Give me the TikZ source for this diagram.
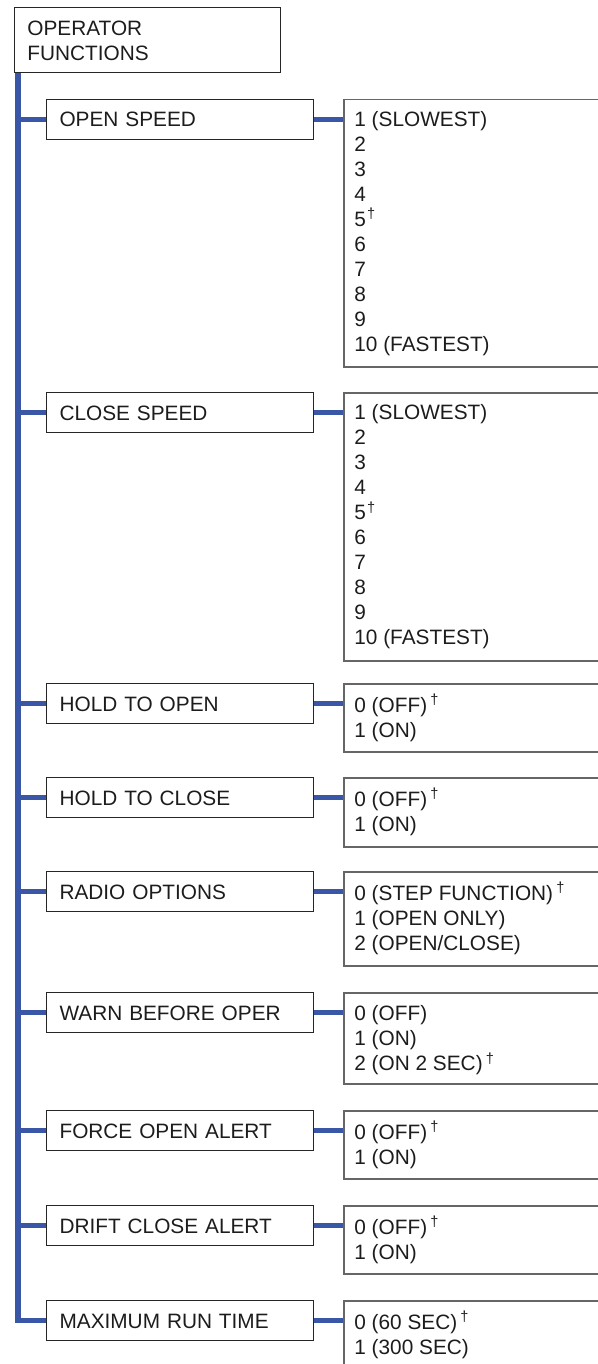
\documentclass[tikz,border=0pt]{standalone}
\usepackage{fontspec}
\setmainfont{Liberation Sans}
\definecolor{trunkblue}{RGB}{58,86,166}
\definecolor{txtc}{RGB}{30,27,28}
\newcommand{\dg}{\textsuperscript{\hspace{1.6pt}†}}
\newcommand{\dgn}{\textsuperscript{\hspace{0.6pt}†}}
\newcommand{\fl}{\rule{0pt}{10pt}}
\begin{document}
\begin{tikzpicture}[x=0.5pt,y=-0.5pt,
  every node/.style={font=\fontsize{10.4}{12.5}\selectfont, text=txtc},
  blueline/.style={draw=trunkblue,line width=2.9pt},
  topbox/.style={draw=black!85,line width=0.55pt,anchor=north west,minimum width=133pt,minimum height=32.5pt,inner sep=0pt},
  lbox/.style={draw=black!85,line width=0.55pt,anchor=north west,text width=120.5pt,inner xsep=6.5pt,inner ysep=0pt,minimum height=20pt,text height=7.45pt,text depth=0pt,align=left},
  rbox/.style={draw=black!60,line width=0.75pt,anchor=north west,minimum width=150pt,inner sep=0pt},
  rtxt/.style={anchor=north west,inner sep=0pt,align=left},
]
\useasboundingbox (0,0) rectangle (598,1364);
\clip (0,0) rectangle (598,1364);

% top box
\node[topbox] (top) at (14,7) {};
\node[rtxt] (toptxt) at ([xshift=6.5pt,yshift=-4.2pt]top.north west) {\fl OPERATOR\\FUNCTIONS};
\coordinate (tr) at ([xshift=2pt]top.south west);

% left boxes
\node[lbox] (os) at (46,99)   {OPEN SPEED};
\node[lbox] (cs) at (46,392)  {CLOSE SPEED};
\node[lbox] (ho) at (46,683)  {HOLD TO OPEN};
\node[lbox] (hc) at (46,777)  {HOLD TO CLOSE};
\node[lbox] (ro) at (46,871)  {RADIO OPTIONS};
\node[lbox] (wb) at (46,992)  {WARN BEFORE OPER};
\node[lbox] (fo) at (46,1110) {FORCE OPEN ALERT};
\node[lbox] (dc) at (46,1205) {DRIFT CLOSE ALERT};
\node[lbox] (mr) at (46,1300) {MAXIMUM RUN TIME};

% right boxes
\node[rbox,minimum height=133.5pt] (osr) at (343,99) {};
\node[rbox,minimum height=134pt]   (csr) at (343,392) {};
\node[rbox,minimum height=34pt]    (hor) at (343,683) {};
\node[rbox,minimum height=34.5pt]  (hcr) at (343,777) {};
\node[rbox,minimum height=47pt]    (ror) at (343,871) {};
\node[rbox,minimum height=45.5pt]  (wbr) at (343,992) {};
\node[rbox,minimum height=34pt]    (for) at (343,1110) {};
\node[rbox,minimum height=34pt]    (dcr) at (343,1205) {};
\node[rbox,minimum height=60pt]    (mrr) at (343,1300) {};

% right box texts
\node[rtxt] (ost) at ([xshift=5.5pt,yshift=-3.3pt]osr.north west)
  {\fl 1 (SLOWEST)\\2\\3\\4\\5\dgn\\6\\7\\8\\9\\10 (FASTEST)};
\node[rtxt] (cst) at ([xshift=5.5pt,yshift=-3.5pt]csr.north west)
  {\fl 1 (SLOWEST)\\2\\3\\4\\5\dgn\\6\\7\\8\\9\\10 (FASTEST)};
\node[rtxt] (hot) at ([xshift=5.5pt,yshift=-4.4pt]hor.north west)
  {\fl 0 (OFF)\dg\\1 (ON)};
\node[rtxt] (hct) at ([xshift=5.5pt,yshift=-4.4pt]hcr.north west)
  {\fl 0 (OFF)\dg\\1 (ON)};
\node[rtxt] (rot) at ([xshift=5.5pt,yshift=-4.4pt]ror.north west)
  {\fl 0 (STEP FUNCTION)\dg\\1 (OPEN ONLY)\\2 (OPEN/CLOSE)};
\node[rtxt] (wbt) at ([xshift=5.5pt,yshift=-4.2pt]wbr.north west)
  {\fl 0 (OFF)\\1 (ON)\\2 (ON 2 SEC)\dg};
\node[rtxt] (fot) at ([xshift=5.5pt,yshift=-4.4pt]for.north west)
  {\fl 0 (OFF)\dg\\1 (ON)};
\node[rtxt] (dct) at ([xshift=5.5pt,yshift=-4.4pt]dcr.north west)
  {\fl 0 (OFF)\dg\\1 (ON)};
\node[rtxt] (mrt) at ([xshift=5.5pt,yshift=-4.4pt]mrr.north west)
  {\fl 0 (60 SEC)\dg\\1 (300 SEC)};

% trunk and branches
\draw[blueline] (tr) |- (mr.west);
\foreach \n in {os,cs,ho,hc,ro,wb,fo,dc}{
  \draw[blueline] (\n.west) -- (\n.west -| tr);
}
% connectors to value boxes
\foreach \n in {os,cs,ho,hc,ro,wb,fo,dc,mr}{
  \draw[blueline] (\n.east) -- (\n.east -| \n r.west);
}
\end{tikzpicture}
\end{document}
